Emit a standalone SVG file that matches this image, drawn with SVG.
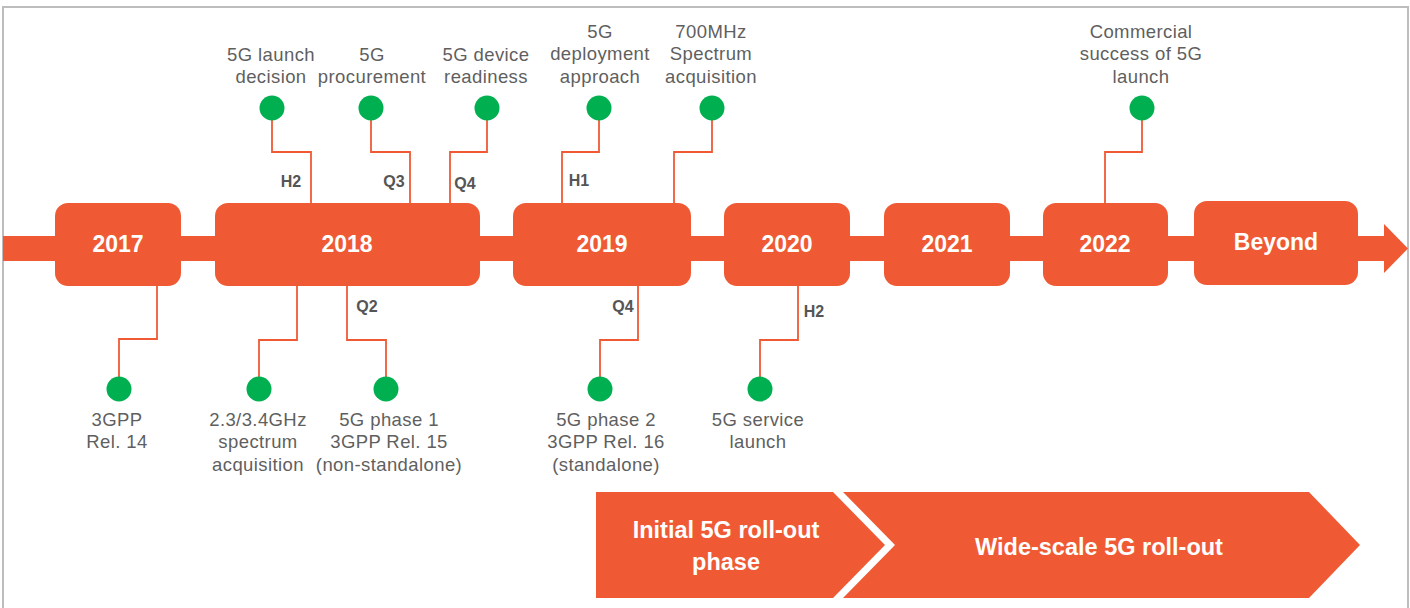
<svg xmlns="http://www.w3.org/2000/svg" width="1410" height="608" viewBox="0 0 1410 608">
  <style>
    .frame { fill: #ffffff; stroke: #bdbdbd; stroke-width: 2; }
    .band { fill: #EF5A35; }
    .year { fill: #EF5A35; }
    .year-label { font-family: "Liberation Sans", Arial, sans-serif; font-weight: bold; font-size: 23px; fill: #ffffff; text-anchor: middle; }
    .dot { fill: #00B050; }
    .link { fill: none; stroke: #EF5A35; stroke-width: 1.8; }
    .note { font-family: "Liberation Sans", Arial, sans-serif; font-size: 18.5px; letter-spacing: 0.4px; fill: #5f5f5f; text-anchor: middle; }
    .period { font-family: "Liberation Sans", Arial, sans-serif; font-weight: bold; font-size: 16px; fill: #555555; text-anchor: middle; }
    .phase { fill: #EF5A35; }
    .phase-label { font-family: "Liberation Sans", Arial, sans-serif; font-weight: bold; font-size: 23.5px; fill: #ffffff; text-anchor: middle; }
  </style>

  <!-- outer frame -->
  <rect class="frame" x="3" y="7" width="1405" height="640"/>

  <!-- timeline band with arrow head -->
  <g id="timeline">
    <rect class="band" x="3" y="236" width="1383" height="25"/>
    <polygon class="band" points="1384,224 1408,248.5 1384,273"/>
  </g>

  <!-- connectors between years and milestones -->
  <g id="connectors">
    <polyline class="link" points="272,108 272,152 311,152 311,203"/>
    <polyline class="link" points="371,108 371,152 410,152 410,203"/>
    <polyline class="link" points="487,108 487,152 450,152 450,203"/>
    <polyline class="link" points="599,108 599,152 562,152 562,203"/>
    <polyline class="link" points="712,108 712,152 674,152 674,203"/>
    <polyline class="link" points="1142,108 1142,152 1105,152 1105,203"/>
    <polyline class="link" points="157,286 157,339 119,339 119,389"/>
    <polyline class="link" points="297,286 297,340 259,340 259,389"/>
    <polyline class="link" points="347,286 347,340 386,340 386,389"/>
    <polyline class="link" points="638,286 638,340 600,340 600,389"/>
    <polyline class="link" points="798,286 798,340 760,340 760,389"/>
  </g>

  <!-- years -->
  <g id="y2017"><rect class="year" x="55" y="203" width="126" height="83" rx="13"/><text class="year-label" x="118" y="252">2017</text></g>
  <g id="y2018"><rect class="year" x="215" y="203" width="265" height="83" rx="13"/><text class="year-label" x="347" y="252">2018</text></g>
  <g id="y2019"><rect class="year" x="513" y="203" width="178" height="83" rx="13"/><text class="year-label" x="602" y="252">2019</text></g>
  <g id="y2020"><rect class="year" x="724" y="203" width="126" height="83" rx="13"/><text class="year-label" x="787" y="252">2020</text></g>
  <g id="y2021"><rect class="year" x="884" y="203" width="126" height="83" rx="13"/><text class="year-label" x="947" y="252">2021</text></g>
  <g id="y2022"><rect class="year" x="1043" y="203" width="125" height="83" rx="13"/><text class="year-label" x="1105" y="252">2022</text></g>
  <g id="beyond"><rect class="year" x="1194" y="201" width="164" height="84" rx="13"/><text class="year-label" x="1276" y="250">Beyond</text></g>

  <!-- milestones above the timeline -->
  <g id="m-launch-decision">
    <circle class="dot" cx="272" cy="108" r="12.5"/>
    <text class="note" x="271" y="61">5G launch</text>
    <text class="note" x="271" y="83">decision</text>
    <text class="period" x="291" y="187">H2</text>
  </g>
  <g id="m-procurement">
    <circle class="dot" cx="371" cy="108" r="12.5"/>
    <text class="note" x="372" y="61">5G</text>
    <text class="note" x="372" y="83">procurement</text>
    <text class="period" x="394" y="187">Q3</text>
  </g>
  <g id="m-device-readiness">
    <circle class="dot" cx="487" cy="108" r="12.5"/>
    <text class="note" x="486" y="61">5G device</text>
    <text class="note" x="486" y="83">readiness</text>
    <text class="period" x="465" y="189">Q4</text>
  </g>
  <g id="m-deployment">
    <circle class="dot" cx="599" cy="108" r="12.5"/>
    <text class="note" x="600" y="38">5G</text>
    <text class="note" x="600" y="60">deployment</text>
    <text class="note" x="600" y="83">approach</text>
    <text class="period" x="579" y="186">H1</text>
  </g>
  <g id="m-700mhz">
    <circle class="dot" cx="712" cy="108" r="12.5"/>
    <text class="note" x="711" y="38">700MHz</text>
    <text class="note" x="711" y="60">Spectrum</text>
    <text class="note" x="711" y="83">acquisition</text>
  </g>
  <g id="m-commercial">
    <circle class="dot" cx="1142" cy="108" r="12.5"/>
    <text class="note" x="1141" y="38">Commercial</text>
    <text class="note" x="1141" y="60">success of 5G</text>
    <text class="note" x="1141" y="83">launch</text>
  </g>

  <!-- milestones below the timeline -->
  <g id="m-rel14">
    <circle class="dot" cx="119" cy="389" r="12.5"/>
    <text class="note" x="117" y="426">3GPP</text>
    <text class="note" x="117" y="448">Rel. 14</text>
  </g>
  <g id="m-spectrum-23">
    <circle class="dot" cx="259" cy="389" r="12.5"/>
    <text class="note" x="258" y="426">2.3/3.4GHz</text>
    <text class="note" x="258" y="448">spectrum</text>
    <text class="note" x="258" y="471">acquisition</text>
  </g>
  <g id="m-phase1">
    <circle class="dot" cx="386" cy="389" r="12.5"/>
    <text class="note" x="389" y="426">5G phase 1</text>
    <text class="note" x="389" y="448">3GPP Rel. 15</text>
    <text class="note" x="389" y="471">(non-standalone)</text>
    <text class="period" x="367" y="312">Q2</text>
  </g>
  <g id="m-phase2">
    <circle class="dot" cx="600" cy="389" r="12.5"/>
    <text class="note" x="606" y="426">5G phase 2</text>
    <text class="note" x="606" y="448">3GPP Rel. 16</text>
    <text class="note" x="606" y="471">(standalone)</text>
    <text class="period" x="623" y="312">Q4</text>
  </g>
  <g id="m-service-launch">
    <circle class="dot" cx="760" cy="389" r="12.5"/>
    <text class="note" x="758" y="426">5G service</text>
    <text class="note" x="758" y="448">launch</text>
    <text class="period" x="814" y="317">H2</text>
  </g>

  <!-- roll-out phases -->
  <g id="phase-initial">
    <polygon class="phase" points="596,492 833,492 885,545 833,598 596,598"/>
    <text class="phase-label" x="726" y="538">Initial 5G roll-out</text>
    <text class="phase-label" x="726" y="570">phase</text>
  </g>
  <g id="phase-wide">
    <polygon class="phase" points="843,492 1309,492 1360,545 1309,598 843,598 895,545"/>
    <text class="phase-label" x="1099" y="555">Wide-scale 5G roll-out</text>
  </g>
</svg>
